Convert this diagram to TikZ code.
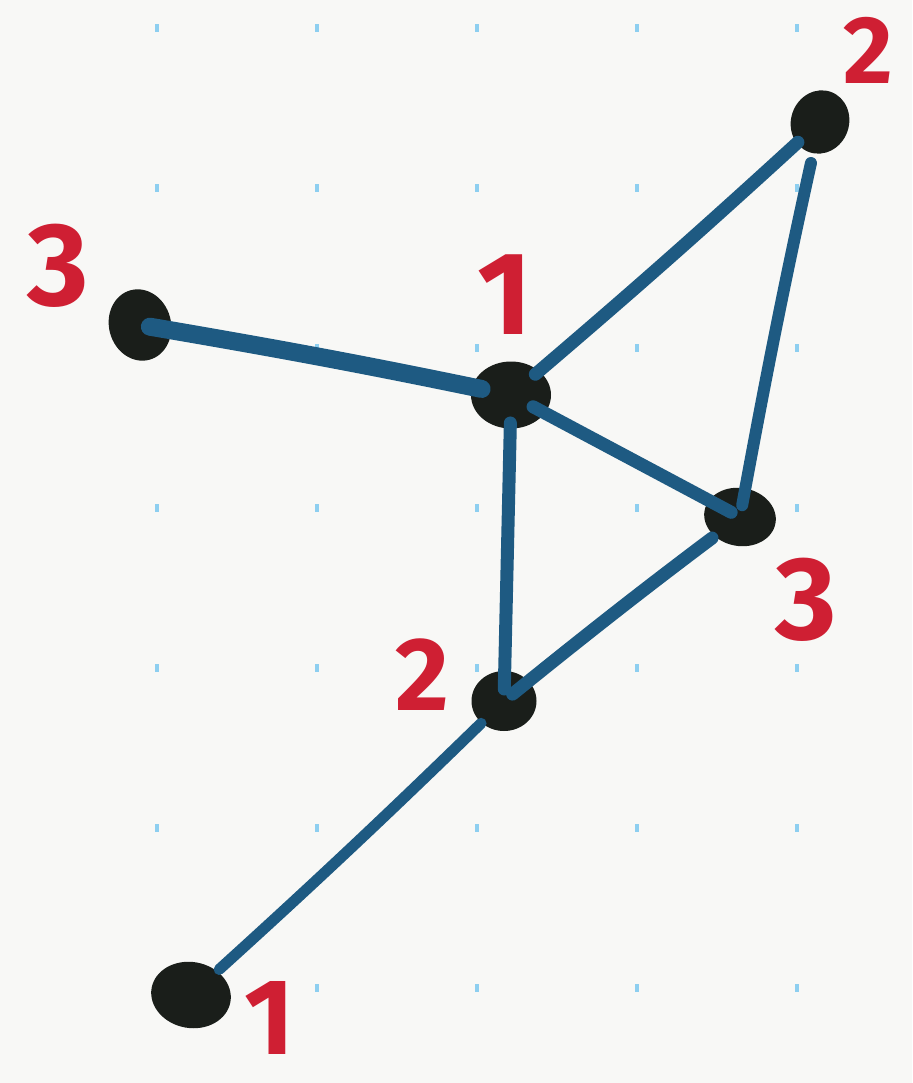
\documentclass[tikz,border=0pt]{standalone}
\usepackage{fontspec}
\setmainfont{Fira Sans}
\usetikzlibrary{shapes.geometric}
\definecolor{bgc}{HTML}{F8F8F6}
\definecolor{edgeblue}{HTML}{1E5A82}
\definecolor{blob}{HTML}{1A1E1A}
\definecolor{lab}{HTML}{CF1F33}
\definecolor{gdot}{HTML}{8ECFF0}
\tikzset{
  vtx/.style={ellipse, fill=blob, draw=none, inner sep=0pt},
  lbl/.style={text=lab, inner sep=0pt, font=\fontsize{118}{118}\selectfont\bfseries},
  edg/.style={draw=edgeblue, line width=12pt, line cap=round},
}
\begin{document}
\begin{tikzpicture}[x=1pt,y=-1pt]
\fill[bgc] (0,0) rectangle (912,1083);
\useasboundingbox (0,0) rectangle (912,1083);
% grid dots
\foreach \gx in {-3,157,317,477,637,797}
  \foreach \gy in {28,188,348,508,668,828,988}
    \fill[gdot] (\gx-2,\gy-4) rectangle (\gx+2,\gy+4);
% vertices
\node[vtx, minimum width=62pt, minimum height=72pt, rotate=15] (B) at (140,325) {};
\node[vtx, minimum width=58pt, minimum height=64pt, rotate=-20] (A) at (820,122) {};
\node[vtx, minimum width=80pt, minimum height=67pt] (C) at (511,395) {};
\node[vtx, minimum width=72pt, minimum height=58pt, rotate=-10] (D) at (740,517) {};
\node[vtx, minimum width=65pt, minimum height=60pt] (E) at (504,701) {};
\node[vtx, minimum width=80pt, minimum height=66pt, rotate=-10] (F) at (191,995) {};
% edges
\draw[edg, line width=18pt, shorten <=10pt, shorten >=30pt] (B.center) to[bend left=1] (C.center);
\draw[edg, line width=13pt, shorten <=32pt, shorten >=30pt] (C.center) to[bend right=1] (A.center);
\draw[edg, line width=12pt, shorten <=42pt, shorten >=12pt] (A.center) to[bend right=1] (D.center);
\draw[edg, line width=13pt, shorten <=25pt, shorten >=10pt] (C.center) to (D.center);
\draw[edg, line width=13pt, shorten <=28pt, shorten >=12pt] (C.center) to (E.center);
\draw[edg, line width=13pt, shorten <=35pt, shorten >=11pt] (D.center) to[bend right=1] (E.center);
\draw[edg, line width=11pt, shorten <=32pt, shorten >=38pt] (E.center) to[bend left=1] (F.center);
% labels
\node[lbl, font=\fontsize{96}{96}\selectfont\bfseries] (LA) at (868,50) {2};
\node[lbl] (LB) at (58,266) {3};
\node[lbl] (LC) at (505,295) {1};
\node[lbl] (LD) at (806,600) {3};
\node[lbl, font=\fontsize{104}{104}\selectfont\bfseries] (LE) at (422,675) {2};
\node[lbl, font=\fontsize{108}{108}\selectfont\bfseries] (LF) at (270,1018) {1};
\end{tikzpicture}
\end{document}
